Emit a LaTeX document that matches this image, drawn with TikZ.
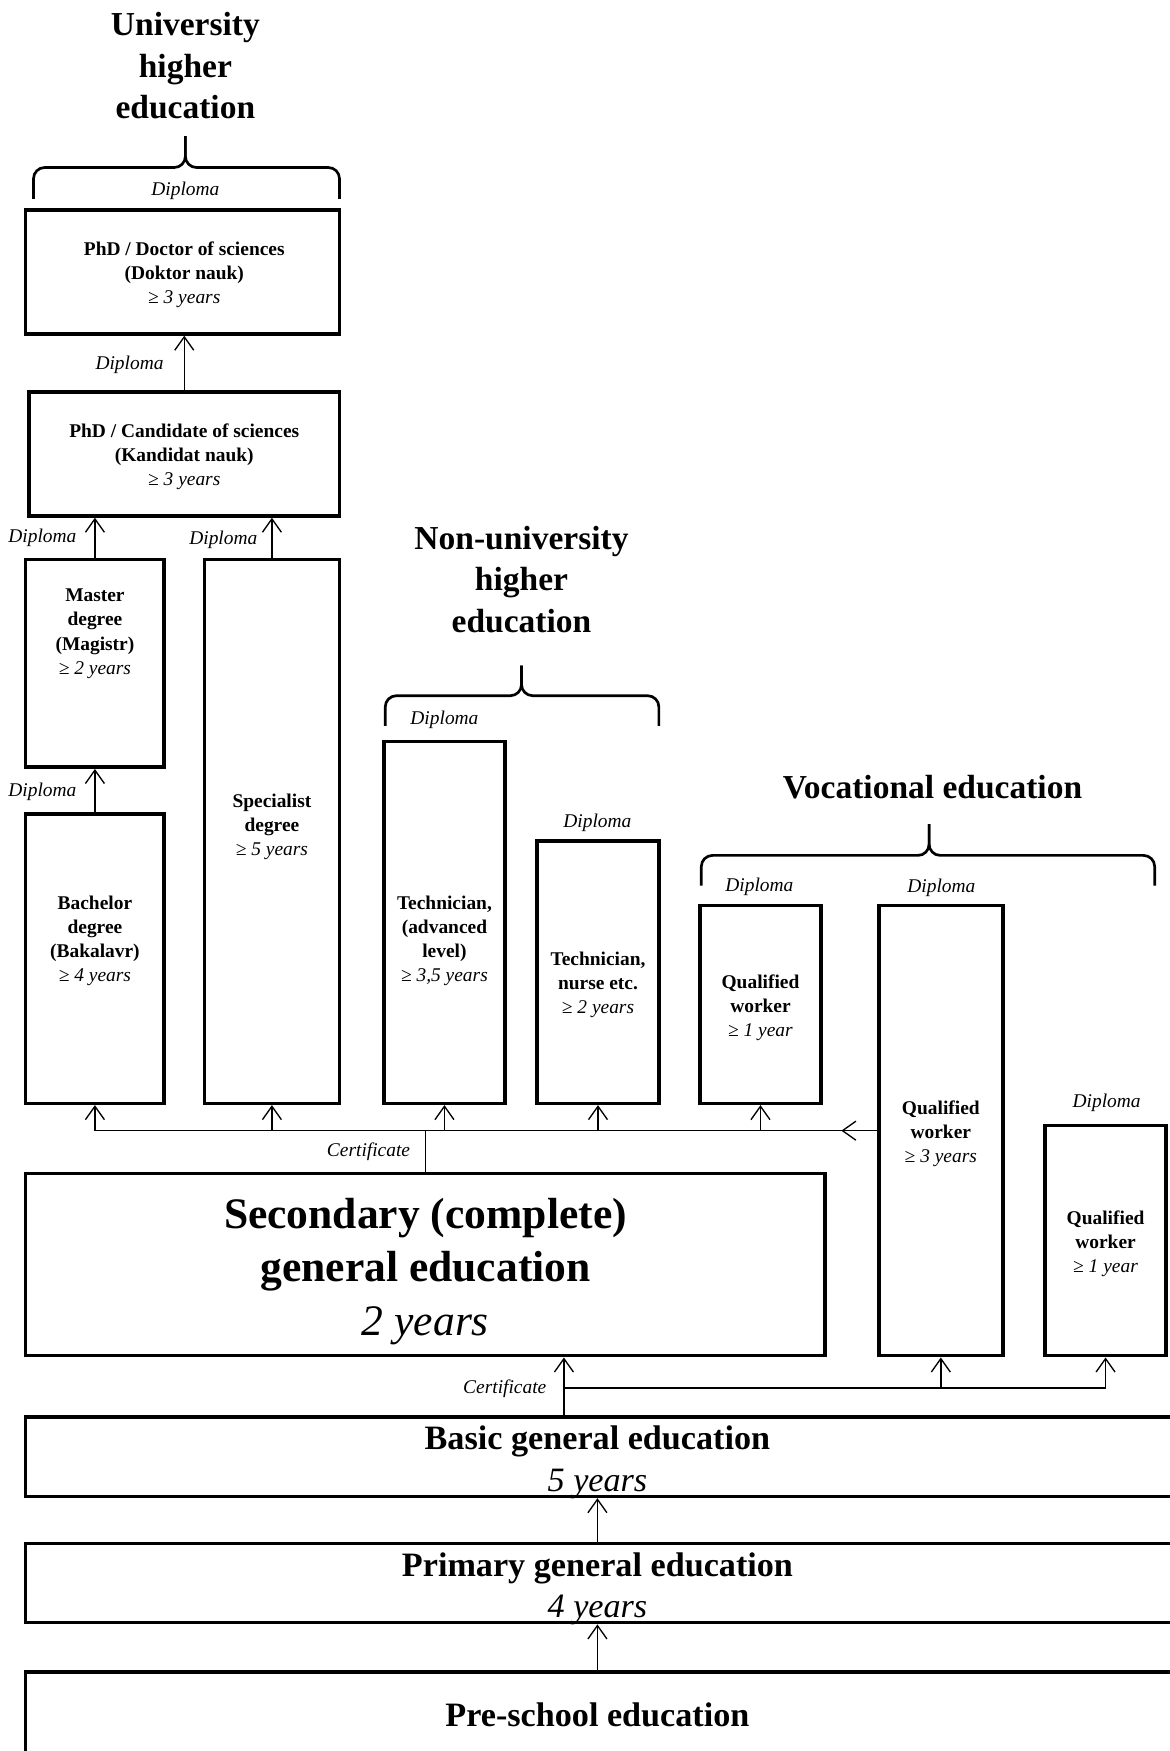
\documentclass[tikz,border=0pt]{standalone}
\usepackage{fontspec}
\setmainfont{Liberation Serif}
\usetikzlibrary{arrows.meta}

\begin{document}
\begin{tikzpicture}[x=0.5pt,y=-0.5pt,
  box/.style={draw, line width=1.6pt, inner sep=0pt},
  boxtext/.style={align=center, font=\fontsize{8.7}{10.75}\selectfont},
  bigtext/.style={align=center, font=\fontsize{15.3}{18.5}\selectfont},
  title/.style={align=center, font=\fontsize{15}{18.5}\selectfont\bfseries},
  note/.style={font=\fontsize{8.7}{10}\selectfont\itshape, inner sep=1pt},
  link/.style={line width=0.6pt},
  arr/.style={link, -{Straight Barb[length=6pt,width=8.5pt]}},
  bracket/.style={line width=1.2pt, rounded corners=5pt}]
\useasboundingbox (0,0) rectangle (1047,1568);
\node [title] (unititle) at (166,59) {University\\higher\\education};
\node [title] (nontitle) at (467,519) {Non-university\\higher\\education};
\node [title] (voctitle) at (835,705) {Vocational education};
\draw [bracket] (30,178) |- (166,150) -- (166,122);
\draw [bracket] (304,178) |- (166,150) -- (166,122);
\draw [bracket] (345,650) |- (467,623) -- (467,596);
\draw [bracket] (590,650) |- (467,623) -- (467,596);
\draw [bracket] (628,793) |- (832,766) -- (832,738);
\draw [bracket] (1034,793) |- (832,766) -- (832,738);
\node [box, minimum width=140.5pt, minimum height=55.5pt] (doktor) at (163.5,243.5) {};
\node [boxtext] (doktor-t) at (165,246) {\textbf{PhD / Doctor of sciences}\\\textbf{(Doktor nauk)}\\\textit{≥ 3 years}};
\node [box, minimum width=139pt, minimum height=55.5pt] (kandidat) at (165,406.5) {};
\node [boxtext] (kandidat-t) at (165,409) {\textbf{PhD / Candidate of sciences}\\\textbf{(Kandidat nauk)}\\\textit{≥ 3 years}};
\node [box, minimum width=62pt, minimum height=93pt] (magistr) at (85,594) {};
\node [boxtext] (magistr-t) at (85,567.5) {\textbf{Master}\\\textbf{degree}\\\textbf{(Magistr)}\\\textit{≥ 2 years}};
\node [box, minimum width=60.5pt, minimum height=243.5pt] (specialist) at (243.5,744.5) {};
\node [boxtext] (specialist-t) at (243.5,740.5) {\textbf{Specialist}\\\textbf{degree}\\\textit{≥ 5 years}};
\node [box, minimum width=62pt, minimum height=129.5pt] (bakalavr) at (85,858.5) {};
\node [boxtext] (bakalavr-t) at (85,842.5) {\textbf{Bachelor}\\\textbf{degree}\\\textbf{(Bakalavr)}\\\textit{≥ 4 years}};
\node [box, minimum width=54pt, minimum height=162pt] (techadv) at (398,826) {};
\node [boxtext] (techadv-t) at (398,842.5) {\textbf{Technician,}\\\textbf{(advanced}\\\textbf{level)}\\\textit{≥ 3,5 years}};
\node [box, minimum width=54.5pt, minimum height=117.5pt] (technurse) at (535.5,870.5) {};
\node [boxtext] (technurse-t) at (535.5,881.5) {\textbf{Technician,}\\\textbf{nurse etc.}\\\textit{≥ 2 years}};
\node [box, minimum width=54pt, minimum height=88.5pt] (worker1) at (681,899.5) {};
\node [boxtext] (worker1-t) at (681,902.5) {\textbf{Qualified}\\\textbf{worker}\\\textit{≥ 1 year}};
\node [box, minimum width=55.5pt, minimum height=201.5pt] (worker3) at (842.5,1012.5) {};
\node [boxtext] (worker3-t) at (842.5,1015.5) {\textbf{Qualified}\\\textbf{worker}\\\textit{≥ 3 years}};
\node [box, minimum width=54pt, minimum height=103pt] (worker2) at (990,1111) {};
\node [boxtext] (worker2-t) at (990,1113.5) {\textbf{Qualified}\\\textbf{worker}\\\textit{≥ 1 year}};
\node [box, minimum width=358pt, minimum height=81.5pt] (secondary) at (381,1132.5) {};
\node [align=center, font=\fontsize{19.5}{24}\selectfont] (secondary-t) at (381,1138.5) {\textbf{Secondary (complete)}\\\textbf{general education}\\\textit{2 years}};
\node [box, minimum width=518.5pt, minimum height=35.5pt] (basic) at (541.5,1304.5) {};
\node [bigtext] (basic-t) at (535,1309.5) {\textbf{Basic general education}\\\textit{5 years}};
\node [box, minimum width=518.5pt, minimum height=35.5pt] (primary) at (541.5,1417.5) {};
\node [bigtext] (primary-t) at (535,1422.5) {\textbf{Primary general education}\\\textit{4 years}};
\node [box, minimum width=518.5pt, minimum height=38pt] (preschool) at (541.5,1535) {};
\node [bigtext] (preschool-t) at (535,1536) {\textbf{Pre-school education}};
\node [note] (doktor-dip) at (166,171) {Diploma};
\node [note] (kandidat-dip) at (116,327) {Diploma};
\node [note] (magistr-dip) at (38,482) {Diploma};
\node [note] (specialist-dip) at (200,483) {Diploma};
\node [note] (bakalavr-dip) at (38,709) {Diploma};
\node [note] (techadv-dip) at (398,645) {Diploma};
\node [note] (technurse-dip) at (535,737) {Diploma};
\node [note] (worker1-dip) at (680,794) {Diploma};
\node [note] (worker3-dip) at (843,795) {Diploma};
\node [note] (worker2-dip) at (991,988) {Diploma};
\node [note] (cert1) at (330,1031) {Certificate};
\node [note] (cert2) at (452,1244) {Certificate};
\draw [arr] (kandidat.north) -- (kandidat.north |- doktor.south);
\draw [arr] (magistr.north) -- (magistr.north |- kandidat.south);
\draw [arr] (specialist.north) -- (specialist.north |- kandidat.south);
\draw [arr] (bakalavr.north) -- (magistr.south);
\coordinate (bus) at (secondary.north |- worker3.west);
\draw [link] (secondary.north) -- (bus);
\draw [link] (worker3.west) -- (bakalavr.south |- bus);
\draw [arr] (worker3.west) -- ++(-32,0);
\draw [arr] (bakalavr.south |- bus) -- (bakalavr.south);
\draw [arr] (specialist.south |- bus) -- (specialist.south);
\draw [arr] (techadv.south |- bus) -- (techadv.south);
\draw [arr] (technurse.south |- bus) -- (technurse.south);
\draw [arr] (worker1.south |- bus) -- (worker1.south);
\coordinate (bus2) at (505,1243);
\draw [arr] (bus2 |- basic.north) -- (bus2 |- secondary.south);
\draw [link] (bus2) -- (worker2.south |- bus2);
\draw [arr] (worker3.south |- bus2) -- (worker3.south);
\draw [arr] (worker2.south |- bus2) -- (worker2.south);
\coordinate (spine) at (535,1400);
\draw [arr] (spine |- primary.north) -- (spine |- basic.south);
\draw [arr] (spine |- preschool.north) -- (spine |- primary.south);
\end{tikzpicture}
\end{document}
